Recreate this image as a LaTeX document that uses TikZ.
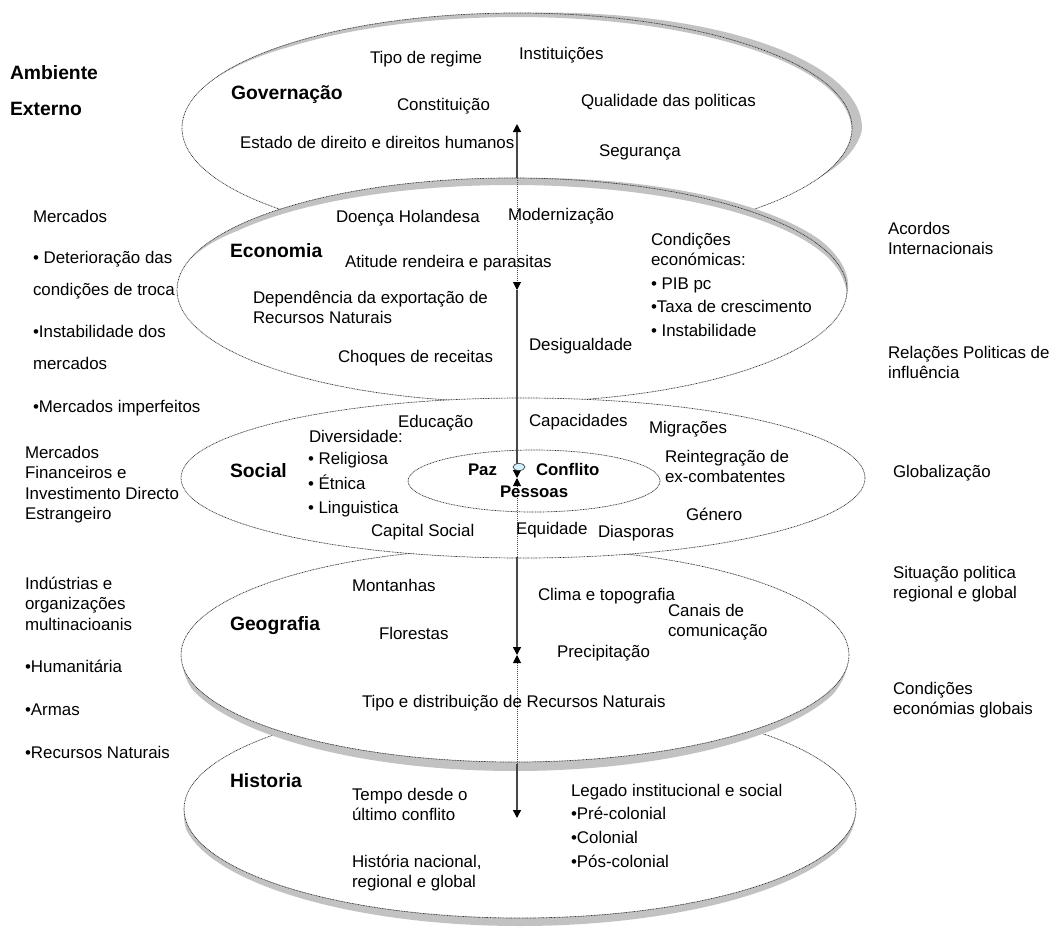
\documentclass[tikz,border=0pt]{standalone}
\usepackage{fontspec}
\setmainfont{Liberation Sans}
\usetikzlibrary{arrows.meta}

% several lines in one label, baseline on the first line
\newcommand\mlines[1]{\begin{tabular}[t]{@{}l@{}}#1\end{tabular}}

% grey rim of a layer disc: band between radial offsets kin(t) and kout(t)
% #1 cx, #2 cy, #3 rx, #4 ry, #5..#6 parameter range in degrees
\newcommand\rimband[6]{%
  \fill[rim] plot[domain=#5:#6, samples=140, variable=\t]
      ({#1+(#3+kin(\t))*cos(\t)}, {#2-(#4+kin(\t))*sin(\t)})
    -- plot[domain=#5:#6, samples=140, variable=\u]
      ({#1+(#3+kout(#5+#6-\u))*cos(#5+#6-\u)}, {#2-(#4+kout(#5+#6-\u))*sin(#5+#6-\u)})
    -- cycle;}

\begin{document}
\begin{tikzpicture}[x=1pt,y=-1pt,
  every node/.style={inner sep=0pt, outer sep=0pt, anchor=base west, text=black},
  txt/.style={font=\fontsize{16.9}{20.5}\selectfont},
  head/.style={font=\fontsize{19.3}{22}\selectfont\bfseries},
  core/.style={font=\fontsize{16.8}{20}\selectfont\bfseries},
  layer/.style={fill=white},
  outline/.style={draw=black!80, line width=0.7pt, dash pattern=on 0.9pt off 0.7pt},
  rim/.style={fill=black!24},
  shaft/.style={draw=black!72, line width=1.4pt},
  hidden/.style={draw=black!70, line width=1pt, dash pattern=on 1pt off 1pt},
  tipend/.style={-{Triangle[length=8pt,width=8pt,color=black]}},
  tipstart/.style={{Triangle[length=8pt,width=8pt,color=black]}-},
]
\useasboundingbox (0,0) rectangle (1052,927);
\fill[white] (0,0) rectangle (1052,927);

% ---------- Governação disc ----------
\path[layer] (517,128) ellipse [x radius=335, y radius=115];
\begin{scope}[declare function={
    kin(\t)=-4*sqrt(max(0,sin(\t)))*min(1,(158-\t)/25);
    kout(\t)=10*max(0,cos(\t))*min(1,(\t+26)/25);}]
  \rimband{517}{128}{335}{115}{-26}{158}
\end{scope}
\path[outline] (517,128) ellipse [x radius=335, y radius=115];

% ---------- Economia disc ----------
\path[layer] (512,290) ellipse [x radius=335, y radius=112];
\begin{scope}[declare function={
    kin(\t)=-7*sqrt(max(0,sin(\t)))*min(1,(166-\t)/20);
    kout(\t)=6*max(0,cos(\t))*min(1,max(0,(\t+5)/30));}]
  \rimband{512}{290}{335}{112}{-5}{166}
\end{scope}
\path[outline] (512,290) ellipse [x radius=335, y radius=112];

% ---------- Historia disc ----------
\path[layer] (520,809) ellipse [x radius=336, y radius=109];
\begin{scope}[declare function={
    kin(\t)=0;
    kout(\t)=8*sqrt(max(0,-sin(\t)))*min(1,(\t-180)/10)*min(1,(358-\t)/15);}]
  \rimband{520}{809}{336}{109}{180}{358}
\end{scope}
\path[outline] (520,809) ellipse [x radius=336, y radius=109];

% ---------- Geografia disc ----------
\path[layer] (515,655) ellipse [x radius=334, y radius=107];
\begin{scope}[declare function={
    kin(\t)=0;
    kout(\t)=9*sqrt(max(0,-sin(\t)))*min(1,(\t-185)/12)*min(1,(355-\t)/15);}]
  \rimband{515}{655}{334}{107}{185}{355}
\end{scope}
\path[outline] (515,655) ellipse [x radius=334, y radius=107];

% ---------- Social disc and its core ----------
\path[layer, outline] (523,478) ellipse [x radius=342, y radius=80];
\path[outline] (534,481) ellipse [x radius=126, y radius=31];

% ---------- vertical links between the layers ----------
\coordinate (g-top) at (517,124);
\coordinate (e-top) at (517,178);
\coordinate (e-mid) at (517,290);
\coordinate (s-core) at (517,478);
\coordinate (s-bot) at (517,557);
\coordinate (g-mid) at (517,655);
\coordinate (h-top) at (517,764);
\coordinate (h-bot) at (517,818);

\draw[shaft, tipend] (e-top) -- (g-top);
\draw[hidden, tipend] (e-top) -- (e-mid);
\draw[shaft, tipstart, tipend] (e-mid) -- (s-core);
\draw[hidden, tipstart] (s-core) -- (s-bot);
\draw[shaft, tipend] (s-bot) -- (g-mid);
\draw[hidden, tipstart] (g-mid) -- (h-top);
\draw[shaft, tipend] (h-top) -- (h-bot);

\path[draw=black!80, line width=0.6pt, fill=cyan!18!white] (519,467) ellipse [x radius=6, y radius=3.5];

% ---------- external environment, left ----------
\node[head] (amb1) at (10,79) {Ambiente};
\node[head] (amb2) at (10,115) {Externo};
\node[txt] (mk1) at (33,222) {Mercados};
\node[txt] (mk2) at (33,263) {• Deterioração das};
\node[txt] (mk3) at (33,295) {condições de troca};
\node[txt] (mk4) at (33,337) {•Instabilidade dos};
\node[txt] (mk5) at (33,369) {mercados};
\node[txt] (mk6) at (33,412) {•Mercados imperfeitos};
\node[txt] (fin) at (25,458) {\mlines{Mercados\\Financeiros e\\Investimento Directo\\Estrangeiro}};
\node[txt] (ind) at (25,589) {\mlines{Indústrias e\\organizações\\multinacioanis}};
\node[txt] (hum) at (25,672) {•Humanitária};
\node[txt] (arm) at (25,715) {•Armas};
\node[txt] (rec) at (25,758) {•Recursos Naturais};

% ---------- external environment, right ----------
\node[txt] (acor) at (888,234) {\mlines{Acordos\\Internacionais}};
\node[txt] (rel) at (888,358) {\mlines{Relações Politicas de\\influência}};
\node[txt] (glob) at (893,477) {Globalização};
\node[txt] (sit) at (893,578) {\mlines{Situação politica\\regional e global}};
\node[txt] (cond) at (893,694) {\mlines{Condições\\económias globais}};

% ---------- Governação ----------
\node[head] (gov) at (231,99) {Governação};
\node[txt] (regime) at (370,63) {Tipo de regime};
\node[txt] (inst) at (519,59) {Instituições};
\node[txt] (const) at (397,110) {Constituição};
\node[txt] (qual) at (581,106) {Qualidade das politicas};
\node[txt] (estado) at (240,148) {Estado de direito e direitos humanos};
\node[txt] (seg) at (599,156) {Segurança};

% ---------- Economia ----------
\node[head] (eco) at (230,257) {Economia};
\node[txt] (doenca) at (336,222) {Doença Holandesa};
\node[txt] (mod) at (508,220) {Modernização};
\node[txt] (atit) at (345,267) {Atitude rendeira e parasitas};
\node[txt] (condec) at (651,245) {\mlines{Condições\\económicas:}};
\node[txt] (pib) at (651,289) {• PIB pc};
\node[txt] (taxa) at (651,312) {•Taxa de crescimento};
\node[txt] (instab) at (651,336) {• Instabilidade};
\node[txt] (dep) at (253,303) {\mlines{Dependência da exportação de\\Recursos Naturais}};
\node[txt] (desig) at (529,350) {Desigualdade};
\node[txt] (choq) at (338,362) {Choques de receitas};

% ---------- Social ----------
\node[head] (soc) at (230,477) {Social};
\node[txt] (edu) at (398,427) {Educação};
\node[txt] (capac) at (529,426) {Capacidades};
\node[txt] (migr) at (649,433) {Migrações};
\node[txt] (div) at (309,442) {Diversidade:};
\node[txt] (relig) at (308,464) {• Religiosa};
\node[txt] (etn) at (308,489) {• Étnica};
\node[txt] (ling) at (308,513) {• Linguistica};
\node[txt] (reint) at (665,462) {\mlines{Reintegração de\\ex-combatentes}};
\node[txt] (gen) at (686,520) {Género};
\node[txt] (capsoc) at (371,536) {Capital Social};
\node[txt] (equi) at (516,534) {Equidade};
\node[txt] (diasp) at (598,537) {Diasporas};
\node[core] (paz) at (468,475) {Paz};
\node[core] (confl) at (536,475) {Conflito};
\node[core] (pess) at (500,497) {Pessoas};

% ---------- Geografia ----------
\node[head] (geo) at (230,630) {Geografia};
\node[txt] (mont) at (352,591) {Montanhas};
\node[txt] (clima) at (538,600) {Clima e topografia};
\node[txt] (canais) at (668,616) {\mlines{Canais de\\comunicação}};
\node[txt] (flor) at (379,639) {Florestas};
\node[txt] (precip) at (557,657) {Precipitação};
\node[txt] (tipodist) at (362,707) {Tipo e distribuição de Recursos Naturais};

% ---------- Historia ----------
\node[head] (hist) at (230,787) {Historia};
\node[txt] (legado) at (571,796) {Legado institucional e social};
\node[txt] (tempo) at (352,800) {\mlines{Tempo desde o\\último conflito}};
\node[txt] (pre) at (571,819) {•Pré-colonial};
\node[txt] (col) at (571,843) {•Colonial};
\node[txt] (pos) at (571,867) {•Pós-colonial};
\node[txt] (histnac) at (352,867) {\mlines{História nacional,\\regional e global}};
\end{tikzpicture}
\end{document}
